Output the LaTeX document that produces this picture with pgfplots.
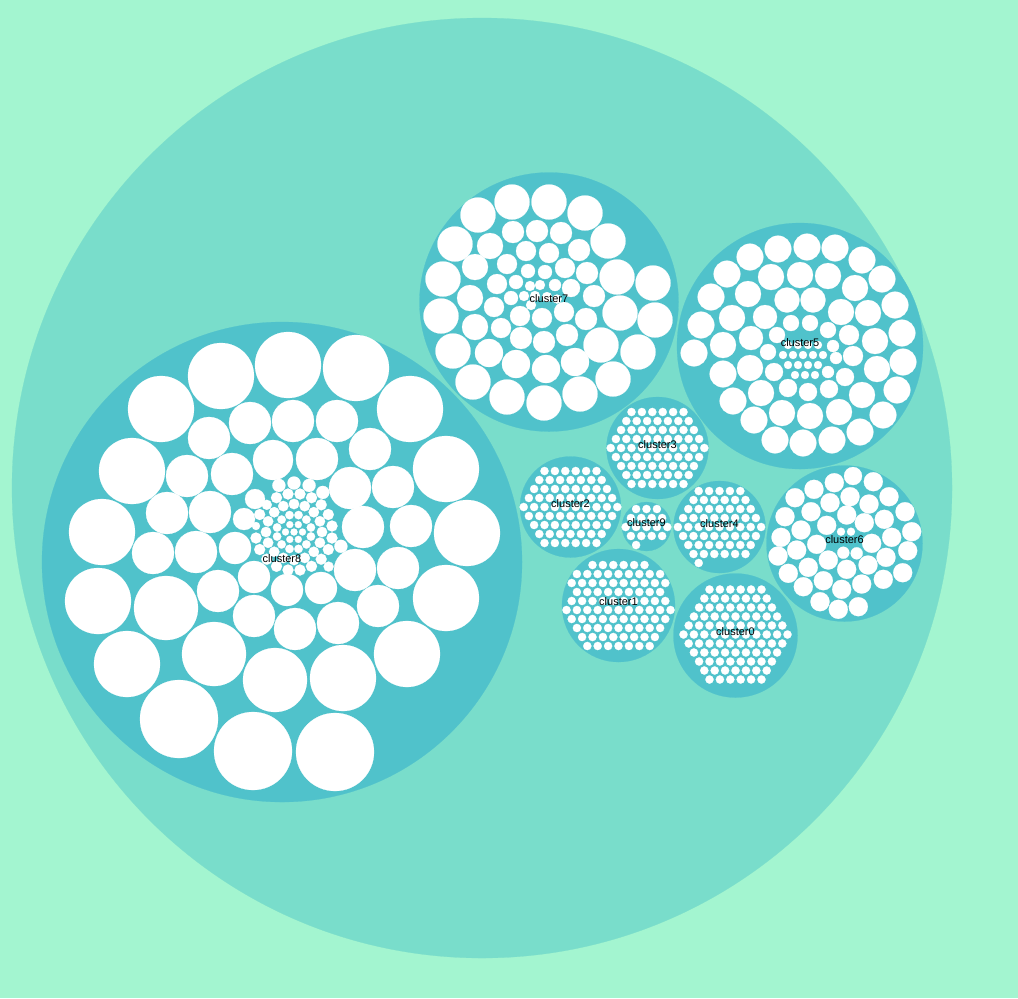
\documentclass[border=0pt]{standalone}
\usepackage{pgfplots}
\pgfplotsset{compat=1.18}
\usepackage{fontspec}
\setmainfont{Liberation Sans}

\definecolor{bgc}{RGB}{163,245,208}
\definecolor{outerc}{RGB}{121,221,203}
\definecolor{clusc}{RGB}{80,194,203}

% circles sized in pixels of the reference: 1 px = 0.5pt
\pgfplotsset{
  bubbles/.style={scatter, only marks, mark=*,
    point meta=\thisrow{r}, point meta min=0, point meta max=500,
    scatter/use mapped color={draw=#1, fill=#1, line width=0.1pt},
    visualization depends on={\thisrow{r}\as\rad},
    scatter/@pre marker code/.append style={/tikz/mark size=\rad*0.5pt}},
  dots/.style={only marks, mark=*, mark size=2.05pt,
    mark options={draw=white, fill=white, line width=0.1pt}},
}

\begin{document}
\begin{tikzpicture}
\begin{axis}[
    x=0.5pt, y=0.5pt, y dir=reverse,
    xmin=0, xmax=1018, ymin=0, ymax=998,
    hide axis, clip=false,
  ]

  % page background
  \addplot[draw=none, fill=bgc] coordinates {(0,0) (1018,0) (1018,998) (0,998)} --cycle;

  % root circle
  \addplot[bubbles=outerc] table {
    x y r
    482 488 470
  };

  % clusters
  \addplot[bubbles=clusc] table {
    x y r
    735.5 635.5 62
    618.5 605.5 56.5
    570.5 507 50.5
    657.5 448 51
    719.5 527 46
    800 346 123
    844.5 543.5 78
    549 302 129.5
    282 562 240
    646.5 526.5 24.5
  };

  % cluster8 leaves
  \addplot[bubbles=white] table {
    x y r
    102 532 33
    98 601 33
    127 664 33
    179 719 39
    253 751 39
    335 752 39
    407 654 33
    446 598 33
    467 533 33
    446 469 33
    410 409 33
    356 368 33
    288 365 33
    221 376 33
    161 409 33
    132 471 33
    166 608 32
    214 654 32
    275 680 32
    343 678 33
    218 591 21
    254 577 16
    254 616 21
    209 438 21
    250 423 21
    187 476 21
    232 474 21
    273 460 20
    167 513 21
    210 512 21
    153 553 21
    196 552 21
    235 548 16
    255 499 10
    244 519 11
    337 421 21
    293 421 21
    370 449 21
    317 459 21
    350 488 21
    393 487 21
    363 527 21
    411 526 21
    378 606 21
    338 623 21
    295 629 21
    321 588 16
    355 570 21
    398 568 21
    287 590 16
    294 532 3.5
    302.5 532 3.5
    298.3 539.4 3.5
    289.8 539.4 3.5
    285.5 532 3.5
    289.8 524.6 3.5
    298.3 524.6 3.5
    310.9 536.5 4.2
    306.4 544.4 4.2
    298.5 548.9 4.2
    289.5 548.9 4.2
    281.6 544.4 4.2
    277.1 536.5 4.2
    277.1 527.5 4.2
    281.6 519.6 4.2
    289.5 515.1 4.2
    298.5 515.1 4.2
    306.4 519.6 4.2
    310.9 527.5 4.2
    322 532 5.2
    319.9 542.7 5.2
    313.8 551.8 5.2
    304.7 557.9 5.2
    294 560 5.2
    283.3 557.9 5.2
    274.2 551.8 5.2
    268.1 542.7 5.2
    266 532 5.2
    268.1 521.3 5.2
    274.2 512.2 5.2
    283.3 506.1 5.2
    294 504 5.2
    304.7 506.1 5.2
    313.8 512.2 5.2
    319.9 521.3 5.2
    332 538 5.5
    328.3 549.5 5.5
    321.2 559.2 5.5
    311.5 566.3 5.5
    300 570 5.5
    288 570 5.5
    276.5 566.3 5.5
    266.8 559.2 5.5
    259.7 549.5 5.5
    256 538 5.5
    256 526 4
    259.7 514.5 5.5
    266.8 504.8 5
    276.5 497.7 5.5
    288 494 5.5
    300 494 5.5
    311.5 497.7 5.5
    321.2 504.8 5.5
    328.3 514.5 5.5
    332 526 5.5
    278.9 485.4 6.5
    294 483 6.5
    309.1 485.4 6.5
    322.8 492.4 6.5
    340.9 546.3 6.5
    328.6 566.6 5
  };

  % cluster7 leaves
  \addplot[bubbles=white] table {
    x y r
    512 202 17.5
    549 202 17.5
    585 213 17.5
    608 241 17.5
    478 215 17.5
    455 244 17.5
    443 279 17.5
    441 316 17.5
    453 351 17.5
    473 382 17.5
    507 397 17.5
    544 403 17.5
    580 394 17.5
    613 379 17.5
    638 352 17.5
    655 320 17.5
    653 283 17.5
    617 277 17.5
    620 313 17.5
    601 345 17.5
    513 232 11
    537 231 11
    561 233 11
    490 246 13
    475 267 13
    470 298 13
    475 327 13
    489 353 14
    516 364 14
    546 369 14
    575 362 14
    579 250 11
    587 273 11
    594 296 11
    586 319 11
    567 335 11
    544 342 11
    521 338 11
    501 328 10
    494 307 10
    497 284 10
    507 264 10
    526 251 10
    549 253 10
    565 268 10
    571 288 9
    564 312 10
    542 318 10
    520 316 10
    511 298 7
    516 282 7
    528 271 7
    545 272 7
    555 285 6
    540 285 5
    530 286 5
    524 296 5
    535 296 5
    547 297 5
    557 299 4.5
    531 305 5
  };

  % cluster5 leaves
  \addplot[bubbles=white] table {
    x y r
    778 249 13.3
    807 247 13.3
    835 248 13.3
    862 260 13.3
    882 279 13.3
    895 305 13.3
    902 333 13.3
    903 362 13.3
    897 390 13.3
    883 415 13.3
    860 432 13.3
    832 440 13.3
    803 443 13.3
    775 440 13.3
    754 420 13.3
    733 401 13.3
    723 374 13.3
    694 353 13.3
    701 325 13.3
    711 297 13.3
    727 274 13.3
    750 257 13.3
    771 277 13
    800 275 13
    828 276 13
    855 288 13
    868 313 13
    875 341 13
    877 369 13
    862 395 13
    839 412 13
    810 416 13
    782 413 13
    761 393 13
    750 368 13
    723 345 13
    732 318 13
    748 294 13
    841 312 13
    787 300 12.5
    813 300 12.5
    765 317 12
    751 338 12
    849 335 10
    853 356 10
    845 377 9
    829 389 9
    808 392 9
    788 388 9
    774 372 9
    768 352 8
    777 335 8
    791 323 8
    810 323 8
    828 330 8
    833 346 6
    836 358 6
    828 372 6
    788 345 4
    798 345 4
    808 345 4
    818 345 4
    783 355 4
    793 355 4
    803 355 4
    813 355 4
    823 355 4
    788 365 4
    798 365 4
    808 365 4
    818 365 4
    795 375 4
    805 375 4
    815 375 4
  };

  % cluster6 leaves
  \addplot[bubbles=white] table {
    x y r
    853 476 9
    873.3 481.7 9.5
    834.3 482.7 9.5
    814 489.3 9.5
    795 497.7 9.5
    889 496.7 9.5
    850 496.7 9.5
    830 502.7 9.5
    869 504 9.5
    811 511.7 9.5
    905 511.7 9.5
    785 516.7 9.5
    846.7 515 9.5
    884.3 519.3 9.5
    864.3 522.7 9.5
    826.7 525.3 9.5
    801 530 9.5
    911.7 531.7 9.5
    841 531.7 4
    851 531.7 4
    891.7 537.3 9.5
    781 537.3 9.5
    871.7 543.3 9.5
    816.7 544.3 9.5
    796.7 550 9.5
    907.7 550.7 9.5
    843.3 552.7 6
    856.7 553.3 6
    778 556 9.5
    886 557.3 9.5
    828.3 560 9.5
    868 565 9.5
    808.3 567.3 9.5
    902.7 572.7 9.5
    846.7 569.3 9.5
    788.3 573.3 9.5
    883.3 579.3 9.5
    823.3 580.7 9.5
    861.7 584 9.5
    803.3 586.7 9.5
    841.7 589.3 9.5
    820 601.7 9.5
    858.3 606.7 9.5
    838.3 609.3 9.5
  };

  % cluster3 leaves
  \addplot[dots] coordinates {
    (631.5,412) (641.9,412) (652.3,412) (662.7,412) (673.1,412) (683.5,412)
    (626.3,421) (636.7,421) (647.1,421) (657.5,421) (667.9,421) (678.3,421) (688.7,421)
    (621.1,430) (631.5,430) (641.9,430) (652.3,430) (662.7,430) (673.1,430) (683.5,430) (693.9,430)
    (615.9,439) (626.3,439) (636.7,439) (647.1,439) (657.5,439) (667.9,439) (678.3,439) (688.7,439) (699.1,439)
    (610.7,448) (621.1,448) (631.5,448) (641.9,448) (652.3,448) (662.7,448) (673.1,448) (683.5,448) (693.9,448) (704.3,448)
    (615.9,457) (626.3,457) (636.7,457) (647.1,457) (657.5,457) (667.9,457) (678.3,457) (688.7,457) (699.1,457)
    (621.1,466) (631.5,466) (641.9,466) (652.3,466) (662.7,466) (673.1,466) (683.5,466) (693.9,466)
    (626.3,475) (636.7,475) (647.1,475) (657.5,475) (667.9,475) (678.3,475) (688.7,475)
    (631.5,484) (641.9,484) (652.3,484) (662.7,484) (673.1,484) (683.5,484)
  };

  % cluster2 leaves
  \addplot[dots] coordinates {
    (544.5,471) (554.9,471) (565.3,471) (575.7,471) (586.1,471) (596.5,471)
    (539.3,480) (549.7,480) (560.1,480) (570.5,480) (580.9,480) (591.3,480) (601.7,480)
    (534.1,489) (544.5,489) (554.9,489) (565.3,489) (575.7,489) (586.1,489) (596.5,489) (606.9,489)
    (528.9,498) (539.3,498) (549.7,498) (560.1,498) (570.5,498) (580.9,498) (591.3,498) (601.7,498) (612.1,498)
    (523.7,507) (534.1,507) (544.5,507) (554.9,507) (565.3,507) (575.7,507) (586.1,507) (596.5,507) (606.9,507) (617.3,507)
    (528.9,516) (539.3,516) (549.7,516) (560.1,516) (570.5,516) (580.9,516) (591.3,516) (601.7,516) (612.1,516)
    (534.1,525) (544.5,525) (554.9,525) (565.3,525) (575.7,525) (586.1,525) (596.5,525) (606.9,525)
    (539.3,534) (549.7,534) (560.1,534) (570.5,534) (580.9,534) (591.3,534) (601.7,534)
    (544.5,543) (554.9,543) (565.3,543) (575.7,543) (586.1,543) (596.5,543)
  };

  % cluster4 leaves
  \addplot[dots] coordinates {
    (698.7,491) (709.1,491) (719.5,491) (729.9,491) (740.3,491)
    (693.5,500) (703.9,500) (714.3,500) (724.7,500) (735.1,500) (745.5,500)
    (688.3,509) (698.7,509) (709.1,509) (719.5,509) (729.9,509) (740.3,509) (750.7,509)
    (683.1,518) (693.5,518) (703.9,518) (714.3,518) (724.7,518) (735.1,518) (745.5,518) (755.9,518)
    (677.9,527) (688.3,527) (698.7,527) (709.1,527) (719.5,527) (729.9,527) (740.3,527) (750.7,527) (761.1,527)
    (683.1,536) (693.5,536) (703.9,536) (714.3,536) (724.7,536) (735.1,536) (745.5,536) (755.9,536)
    (688.3,545) (698.7,545) (709.1,545) (719.5,545) (729.9,545) (740.3,545) (750.7,545)
    (693.5,554) (703.9,554) (714.3,554) (724.7,554) (735.1,554) (745.5,554)
    (698.7,563)
  };

  % cluster0 leaves
  \addplot[dots] coordinates {
    (709.5,589.5) (719.9,589.5) (730.3,589.5) (740.7,589.5) (751.1,589.5) (761.5,589.5)
    (704.3,598.5) (714.7,598.5) (725.1,598.5) (735.5,598.5) (745.9,598.5) (756.3,598.5) (766.7,598.5)
    (699.1,607.5) (709.5,607.5) (719.9,607.5) (730.3,607.5) (740.7,607.5) (751.1,607.5) (761.5,607.5) (771.9,607.5)
    (693.9,616.5) (704.3,616.5) (714.7,616.5) (725.1,616.5) (735.5,616.5) (745.9,616.5) (756.3,616.5) (766.7,616.5) (777.1,616.5)
    (688.7,625.5) (699.1,625.5) (709.5,625.5) (719.9,625.5) (730.3,625.5) (740.7,625.5) (751.1,625.5) (761.5,625.5) (771.9,625.5) (782.3,625.5)
    (683.5,634.5) (693.9,634.5) (704.3,634.5) (714.7,634.5) (725.1,634.5) (735.5,634.5) (745.9,634.5) (756.3,634.5) (766.7,634.5) (777.1,634.5) (787.5,634.5)
    (688.7,643.5) (699.1,643.5) (709.5,643.5) (719.9,643.5) (730.3,643.5) (740.7,643.5) (751.1,643.5) (761.5,643.5) (771.9,643.5) (782.3,643.5)
    (693.9,652.5) (704.3,652.5) (714.7,652.5) (725.1,652.5) (735.5,652.5) (745.9,652.5) (756.3,652.5) (766.7,652.5) (777.1,652.5)
    (699.1,661.5) (709.5,661.5) (719.9,661.5) (730.3,661.5) (740.7,661.5) (751.1,661.5) (761.5,661.5) (771.9,661.5)
    (704.3,670.5) (714.7,670.5) (725.1,670.5) (735.5,670.5) (745.9,670.5) (756.3,670.5) (766.7,670.5)
    (709.5,679.5) (719.9,679.5) (730.3,679.5) (740.7,679.5) (751.1,679.5) (761.5,679.5)
  };

  % cluster1 leaves
  \addplot[dots] coordinates {
    (592.5,565) (602.9,565) (613.3,565) (623.7,565) (634.1,565) (644.5,565)
    (576.9,574) (587.3,574) (597.7,574) (608.1,574) (618.5,574) (628.9,574) (639.3,574) (649.7,574) (660.1,574)
    (571.7,583) (582.1,583) (592.5,583) (602.9,583) (613.3,583) (623.7,583) (634.1,583) (644.5,583) (654.9,583) (665.3,583)
    (576.9,592) (587.3,592) (597.7,592) (608.1,592) (618.5,592) (628.9,592) (639.3,592) (649.7,592) (660.1,592)
    (571.7,601) (582.1,601) (592.5,601) (602.9,601) (613.3,601) (623.7,601) (634.1,601) (644.5,601) (654.9,601) (665.3,601)
    (566.5,610) (576.9,610) (587.3,610) (597.7,610) (608.1,610) (618.5,610) (628.9,610) (639.3,610) (649.7,610) (660.1,610) (670.5,610)
    (571.7,619) (582.1,619) (592.5,619) (602.9,619) (613.3,619) (623.7,619) (634.1,619) (644.5,619) (654.9,619) (665.3,619)
    (576.9,628) (587.3,628) (597.7,628) (608.1,628) (618.5,628) (628.9,628) (639.3,628) (649.7,628) (660.1,628)
    (582.1,637) (592.5,637) (602.9,637) (613.3,637) (623.7,637) (634.1,637) (644.5,637) (654.9,637)
    (587.3,646) (597.7,646) (608.1,646) (618.5,646) (628.9,646) (639.3,646) (649.7,646)
  };

  % cluster9 leaves
  \addplot[dots] coordinates {
    (636.1,509) (646.5,509) (656.9,509)
    (630.9,518) (641.3,518) (651.7,518) (662.1,518)
    (625.7,527) (636.1,527) (646.5,527) (656.9,527) (667.3,527)
    (630.9,536) (641.3,536) (651.7,536) (662.1,536)
    (636.1,545)
  };

  % cluster names
  \addplot[only marks, mark=none, nodes near coords, point meta=explicit symbolic,
    nodes near coords style={anchor=base, inner sep=0pt, text=black,
      font=\fontsize{5.5}{6.6}\selectfont}]
    table[meta=label] {
    x y label
    735.5 635.5 cluster0
    618.5 605.5 cluster1
    570.5 507 cluster2
    657.5 448 cluster3
    719.5 527 cluster4
    800 346 cluster5
    844.5 543.5 cluster6
    549 302 cluster7
    282 562 cluster8
    646.5 526.5 cluster9
  };
\end{axis}
\end{tikzpicture}
\end{document}
